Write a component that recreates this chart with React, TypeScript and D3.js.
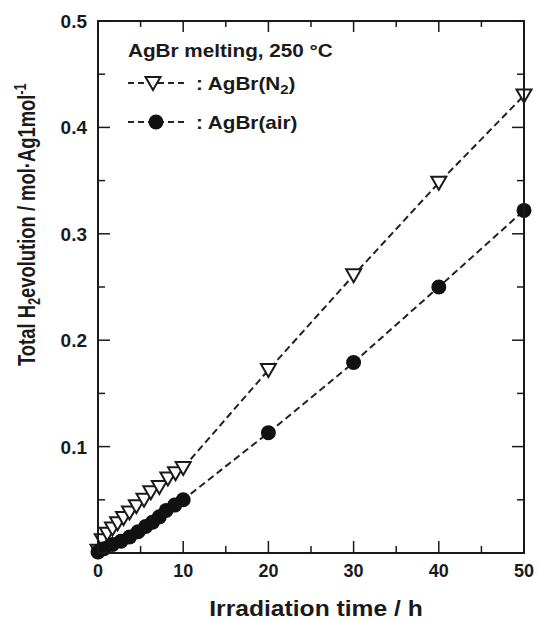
import React from "react";
import * as d3 from "d3";

const n2Time = [0, 0.5, 1.1, 1.7, 2.3, 3.0, 3.7, 4.5, 5.4, 6.2, 7.2, 8.2, 9.1, 10, 20, 30, 40, 50];
const n2Value = [0.002, 0.012, 0.018, 0.023, 0.028, 0.033, 0.038, 0.044, 0.050, 0.057, 0.062, 0.070, 0.075, 0.080, 0.172, 0.261, 0.348, 0.430];
const airTime = [0, 0.7, 1.7, 2.7, 3.7, 4.7, 5.6, 6.4, 7.2, 8.0, 9.0, 10, 20, 30, 40, 50];
const airValue = [0.001, 0.004, 0.008, 0.011, 0.015, 0.020, 0.025, 0.029, 0.034, 0.040, 0.045, 0.050, 0.113, 0.179, 0.250, 0.322];
const xTicks = [0, 10, 20, 30, 40, 50];
const xMinor = [5, 15, 25, 35, 45];
const yTicks = [0.1, 0.2, 0.3, 0.4, 0.5];
const yMinor = [0.05, 0.15, 0.25, 0.35, 0.45];

const W = 539, H = 621;
const L = 98, R = 524, T = 21, B = 553;
const FONT = "'Liberation Sans', Arial, sans-serif";
const INK = "#1a1a1a";

export default function App() {
  const x = d3.scaleLinear().domain([0, 50]).range([L, R]);
  const y = d3.scaleLinear().domain([0, 0.5]).range([B, T]);
  const line = d3.line<[number, number]>().x(d => x(d[0])).y(d => y(d[1]));
  const n2 = n2Time.map((t, i) => [t, n2Value[i]] as [number, number]);
  const air = airTime.map((t, i) => [t, airValue[i]] as [number, number]);
  const tri = (cx: number, cy: number) =>
    `M${cx - 7.5},${cy - 6}L${cx + 7.5},${cy - 6}L${cx},${cy + 7}Z`;

  return (
    <svg width={W} height={H} style={{ position: "absolute", left: 0, top: 0, background: "#fff" }}
      fontFamily={FONT} fontWeight="bold">
      {/* data lines */}
      <path d={line(air) || ""} fill="none" stroke="#222" strokeWidth={2} strokeDasharray="7,4" />
      <path d={line(n2) || ""} fill="none" stroke="#222" strokeWidth={2} strokeDasharray="7,4" />
      {n2.map((d, i) => (
        <path key={"t" + i} d={tri(x(d[0]), y(d[1]))} fill="#fff" stroke={INK} strokeWidth={2} />
      ))}
      {air.map((d, i) => (
        <circle key={"c" + i} cx={x(d[0])} cy={y(d[1])} r={7.5} fill="#111" />
      ))}

      {/* frame */}
      <rect x={L} y={T} width={R - L} height={B - T} fill="none" stroke={INK} strokeWidth={2} />
      {xTicks.map(v => (
        <g key={"xt" + v}>
          <line x1={x(v)} x2={x(v)} y1={B} y2={B - 12} stroke={INK} strokeWidth={1.5} />
          <line x1={x(v)} x2={x(v)} y1={T} y2={T + 11} stroke={INK} strokeWidth={1.5} />
          <text x={x(v)} y={577} textAnchor="middle" fontSize={18} fill={INK}>{v}</text>
        </g>
      ))}
      {xMinor.map(v => (
        <g key={"xm" + v}>
          <line x1={x(v)} x2={x(v)} y1={B} y2={B - 7} stroke={INK} strokeWidth={1.5} />
          <line x1={x(v)} x2={x(v)} y1={T} y2={T + 6} stroke={INK} strokeWidth={1.5} />
        </g>
      ))}
      {yTicks.map(v => (
        <g key={"yt" + v}>
          <line x1={L} x2={L + 12} y1={y(v)} y2={y(v)} stroke={INK} strokeWidth={1.5} />
          <line x1={R} x2={R - 12} y1={y(v)} y2={y(v)} stroke={INK} strokeWidth={1.5} />
          <text x={87} y={y(v) + 7} textAnchor="end" fontSize={19} fill={INK}>{v.toFixed(1)}</text>
        </g>
      ))}
      {yMinor.map(v => (
        <g key={"ym" + v}>
          <line x1={L} x2={L + 7} y1={y(v)} y2={y(v)} stroke={INK} strokeWidth={1.5} />
          <line x1={R} x2={R - 7} y1={y(v)} y2={y(v)} stroke={INK} strokeWidth={1.5} />
        </g>
      ))}

      {/* axis titles */}
      <text transform="translate(316,616) scale(1.12,1)" textAnchor="middle" fontSize={22} fill={INK}>Irradiation time / h</text>
      <text transform="translate(35,366) rotate(-90) scale(0.8,1)" textAnchor="start" fontSize={23} fill={INK}>
        Total H<tspan fontSize={16} dy={5}>2</tspan><tspan dy={-5}>evolution / mol·Ag1mol</tspan>
        <tspan fontSize={16} dy={-9}>-1</tspan>
      </text>

      {/* legend */}
      <text transform="translate(128,57) scale(1.15,1)" fontSize={18} fill={INK}>AgBr melting, 250 °C</text>
      <line x1={128} x2={188} y1={83} y2={83} stroke="#222" strokeWidth={2} strokeDasharray="6,4" />
      <path d={tri(153, 83)} fill="#fff" stroke={INK} strokeWidth={2} />
      <text transform="translate(196,90) scale(1.15,1)" fontSize={18} fill={INK}>
        : AgBr(N<tspan fontSize={13} dy={4}>2</tspan><tspan dy={-4}>)</tspan>
      </text>
      <line x1={128} x2={188} y1={122} y2={122} stroke="#222" strokeWidth={2} strokeDasharray="6,4" />
      <circle cx={156} cy={122} r={7.5} fill="#111" />
      <text transform="translate(196,129) scale(1.15,1)" fontSize={18} fill={INK}>: AgBr(air)</text>
    </svg>
  );
}
